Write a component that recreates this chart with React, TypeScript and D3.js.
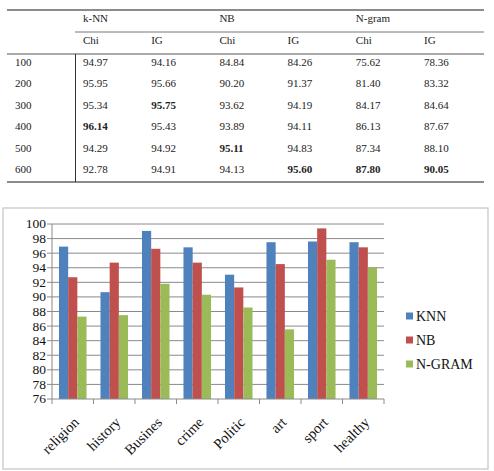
import React from 'react';
import * as d3 from 'd3';

// table data
const methods = ['k-NN', 'NB', 'N-gram'];
const measures = ['Chi', 'IG', 'Chi', 'IG', 'Chi', 'IG'];
const featureCounts = ['100', '200', '300', '400', '500', '600'];
const tableValues = [
  ['94.97', '94.16', '84.84', '84.26', '75.62', '78.36'],
  ['95.95', '95.66', '90.20', '91.37', '81.40', '83.32'],
  ['95.34', '95.75', '93.62', '94.19', '84.17', '84.64'],
  ['96.14', '95.43', '93.89', '94.11', '86.13', '87.67'],
  ['94.29', '94.92', '95.11', '94.83', '87.34', '88.10'],
  ['92.78', '94.91', '94.13', '95.60', '87.80', '90.05'],
];
// [row, col] of the best values, printed bold
const boldCells = [[2, 1], [3, 0], [4, 2], [5, 3], [5, 4], [5, 5]];

// bar chart data
const categories = ['religion', 'history', 'Busines', 'crime', 'Politic', 'art', 'sport', 'healthy'];
const seriesNames = ['KNN', 'NB', 'N-GRAM'];
const knn = [96.9, 90.65, 99.05, 96.8, 93.05, 97.5, 97.6, 97.5];
const nb = [92.7, 94.7, 96.6, 94.7, 91.3, 94.5, 99.4, 96.8];
const ngram = [87.3, 87.5, 91.8, 90.3, 88.55, 85.55, 95.1, 94.05];
const yTicks = [76, 78, 80, 82, 84, 86, 88, 90, 92, 94, 96, 98, 100];

const seriesValues = [knn, nb, ngram];
const colors = ['#4F81BD', '#C0504D', '#9BBB59'];

const serif = 'Liberation Serif, Times New Roman, serif';

//table layout
const colX = d3.scaleLinear().domain([0, 5]).range([83, 424]);
const rowY = d3.scaleLinear().domain([0, 5]).range([66, 173]);

//chart layout
const x = d3.scaleBand().domain(categories).range([52, 384]);
const xInner = d3.scaleBand().domain(seriesNames).range([0, x.bandwidth()]).paddingOuter(0.76);
const y = d3.scaleLinear().domain([76, 100]).range([399, 224]);

const isBold = (r: number, c: number) => boldCells.some(([br, bc]) => br === r && bc === c);

const App = () => (
  <svg width={494} height={471} style={{ position: 'absolute', left: 0, top: 0, fontFamily: serif }}>
    <rect width={494} height={471} fill="#fff" />

    {/* table rules */}
    <line x1={7} x2={484} y1={10} y2={10} stroke="#666" strokeWidth={1.5} />
    <line x1={75} x2={484} y1={32} y2={32} stroke="#777" strokeWidth={1} />
    <line x1={7} x2={484} y1={54} y2={54} stroke="#555" strokeWidth={1.2} />
    <line x1={7} x2={484} y1={182} y2={182} stroke="#666" strokeWidth={1.5} />
    <line x1={75.5} x2={75.5} y1={54} y2={182} stroke="#333" strokeWidth={1} />

    <g fontSize={11} fill="#222">
      {methods.map((m, i) => (
        <text key={m} x={colX(i * 2)} y={22}>{m}</text>
      ))}
      {measures.map((m, i) => (
        <text key={i} x={colX(i)} y={44}>{m}</text>
      ))}
      {featureCounts.map((f, r) => (
        <g key={f}>
          <text x={15} y={rowY(r)}>{f}</text>
          {tableValues[r].map((v, c) => (
            <text key={c} x={colX(c)} y={rowY(r)} fontWeight={isBold(r, c) ? 'bold' : 'normal'}>{v}</text>
          ))}
        </g>
      ))}
    </g>

    {/* chart frame */}
    <rect x={3} y={208} width={485} height={261} fill="#fff" stroke="#c4c4c4" strokeWidth={1.2} />

    {/* gridlines and y axis */}
    {yTicks.map((t) => (
      <g key={t}>
        {t > 76 && <line x1={52} x2={384} y1={y(t)} y2={y(t)} stroke="#8a8a8a" strokeWidth={1} />}
        <line x1={47} x2={52} y1={y(t)} y2={y(t)} stroke="#8a8a8a" strokeWidth={1} />
        <text x={46} y={y(t)} dy="0.33em" textAnchor="end" fontSize={13.5} fill="#111">{t}</text>
      </g>
    ))}
    <line x1={52} x2={52} y1={224} y2={399} stroke="#8a8a8a" strokeWidth={1} />

    {/* bars */}
    {categories.map((c, i) => (
      <g key={c} transform={`translate(${x(c)},0)`}>
        {seriesNames.map((s, j) => (
          <rect
            key={s}
            x={xInner(s)}
            y={y(seriesValues[j][i])}
            width={xInner.bandwidth()}
            height={399 - y(seriesValues[j][i])}
            fill={colors[j]}
          />
        ))}
      </g>
    ))}

    {/* x axis */}
    <line x1={52} x2={384} y1={399} y2={399} stroke="#8a8a8a" strokeWidth={1} />
    {[...categories.map((c) => x(c) as number), 384].map((t, i) => (
      <line key={i} x1={t} x2={t} y1={399} y2={404} stroke="#8a8a8a" strokeWidth={1} />
    ))}
    {categories.map((c) => (
      <text
        key={c}
        transform={`translate(${(x(c) as number) + x.bandwidth() / 2},${416}) rotate(-45)`}
        textAnchor="end"
        dy="0.7em"
        fontSize={14.5}
        fill="#111"
      >
        {c}
      </text>
    ))}

    {/* legend */}
    {seriesNames.map((s, j) => (
      <g key={s} transform={`translate(406,${316 + j * 24})`}>
        <rect x={0} y={-3.5} width={7} height={7} fill={colors[j]} />
        <text x={10} dy="0.35em" fontSize={14} fill="#111">{s}</text>
      </g>
    ))}
  </svg>
);

export default App;
